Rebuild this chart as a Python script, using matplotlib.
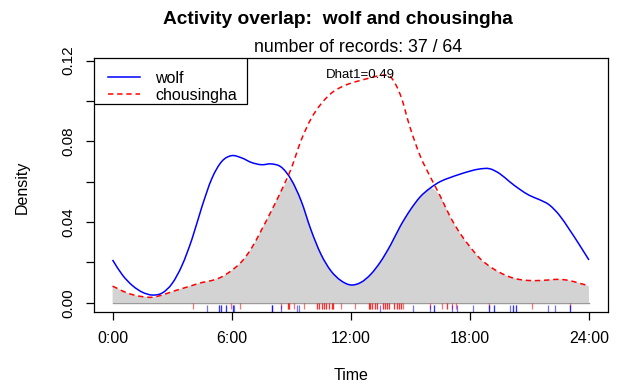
import numpy as np
import matplotlib
matplotlib.use("Agg")
import matplotlib.pyplot as plt
from matplotlib.path import Path
from matplotlib.patches import PathPatch, Rectangle

# Kernel density of activity times (time of day in hours)
hours = np.arange(0, 24.01, 0.5)
wolf_density = [
    0.0212, 0.0137, 0.0085, 0.0052, 0.0038, 0.0048, 0.0095, 0.0185, 0.0315, 0.0475,
    0.0615, 0.0700, 0.0729, 0.0718, 0.0695, 0.0684, 0.0688, 0.0672, 0.0610, 0.0505,
    0.0360, 0.0240, 0.0158, 0.0110, 0.0088, 0.0100, 0.0140, 0.0203, 0.0285, 0.0380,
    0.0460, 0.0525, 0.0568, 0.0600, 0.0620, 0.0637, 0.0652, 0.0663, 0.0664, 0.0640,
    0.0600, 0.0563, 0.0532, 0.0511, 0.0485, 0.0435, 0.0365, 0.0290, 0.0212,
]
chousingha_density = [
    0.0082, 0.0058, 0.0040, 0.0030, 0.0027, 0.0038, 0.0055, 0.0070, 0.0085, 0.0100,
    0.0110, 0.0128, 0.0160, 0.0203, 0.0270, 0.0360, 0.0455, 0.0555, 0.0665, 0.0805,
    0.0912, 0.0985, 0.1037, 0.1068, 0.1088, 0.1102, 0.1115, 0.1126, 0.1120, 0.1030,
    0.0865, 0.0727, 0.0625, 0.0530, 0.0428, 0.0345, 0.0278, 0.0220, 0.0180, 0.0150,
    0.0128, 0.0115, 0.0110, 0.0110, 0.0113, 0.0116, 0.0110, 0.0097, 0.0082,
]

# Individual records (hours) shown as rugs
wolf_times = [
    4.76, 5.34, 5.34, 5.44, 5.44, 5.73, 5.73, 6.07, 6.07, 6.12, 8.02, 8.02, 8.02,
    8.50, 9.30, 9.38, 13.46, 15.16, 16.01, 16.18, 16.18, 17.12, 17.37, 18.17,
    18.94, 18.94, 19.21, 19.21, 20.01, 20.18, 20.18, 20.30, 20.30, 21.93, 22.27,
    23.07, 23.07,
]
chousingha_times = [
    4.03, 5.98, 6.44, 8.50, 8.84, 8.84, 8.87, 8.87, 9.16, 9.64, 10.28, 10.28,
    10.40, 10.40, 10.54, 10.54, 10.66, 10.66, 10.74, 10.74, 10.91, 10.91, 11.05,
    11.05, 11.12, 11.12, 11.51, 12.19, 12.92, 12.92, 12.99, 12.99, 13.09, 13.09,
    13.21, 13.21, 13.33, 13.33, 13.63, 13.63, 13.72, 13.72, 13.84, 13.84, 13.94,
    13.94, 14.19, 14.19, 14.31, 14.31, 14.45, 14.45, 14.52, 14.52, 14.65, 16.01,
    16.61, 16.86, 16.86, 17.12, 17.29, 18.94, 21.15, 23.07,
]

tick_hours = [0, 6, 12, 18, 24]
tick_labels = ["0:00", "6:00", "12:00", "18:00", "24:00"]
y_ticks = [0.00, 0.02, 0.04, 0.06, 0.08, 0.10, 0.12]
y_labels = ["0.00", "", "0.04", "", "0.08", "", "0.12"]
dhat1 = 0.49


def smooth_curve(x, y):
    """Cubic Bezier path through (x, y); the day is circular, so the
    neighbours of the end points wrap around midnight."""
    x = np.asarray(x, float)
    y = np.asarray(y, float)
    px = np.concatenate([[x[-2] - 24], x, [x[1] + 24]])
    py = np.concatenate([[y[-2]], y, [y[1]]])
    verts = [(x[0], y[0])]
    codes = [Path.MOVETO]
    for i in range(1, len(px) - 2):
        c1 = (px[i] + (px[i + 1] - px[i - 1]) / 6, py[i] + (py[i + 1] - py[i - 1]) / 6)
        c2 = (px[i + 1] - (px[i + 2] - px[i]) / 6, py[i + 1] - (py[i + 2] - py[i]) / 6)
        verts += [c1, c2, (px[i + 1], py[i + 1])]
        codes += [Path.CURVE4] * 3
    return verts, codes


plt.rcParams["font.family"] = ["Liberation Sans", "DejaVu Sans"]

W, H = 628, 388
fig = plt.figure(figsize=(W / 100, H / 100), dpi=100)
left, right, top, bottom = 93.5, 608, 58, 311.7
ax = fig.add_axes([left / W, (H - bottom) / H, (right - left) / W, (bottom - top) / H])

wolf = np.array(wolf_density)
chou = np.array(chousingha_density)
overlap = np.minimum(wolf, chou)

# shaded overlap area
v, c = smooth_curve(hours, overlap)
v += [(hours[-1], 0.0), (hours[0], 0.0), v[0]]
c += [Path.LINETO, Path.LINETO, Path.CLOSEPOLY]
ax.add_patch(PathPatch(Path(v, c), facecolor="#d3d3d3", edgecolor="none", zorder=1))
ax.plot([hours[0], hours[-1]], [0, 0], color="#9a9a9a", lw=1.0, zorder=2)

# density curves
v, c = smooth_curve(hours, wolf)
ax.add_patch(PathPatch(Path(v, c), facecolor="none", edgecolor="blue", lw=1.1, zorder=3))
v, c = smooth_curve(hours, chou)
ax.add_patch(PathPatch(Path(v, c), facecolor="none", edgecolor="red", lw=1.1,
                       ls=(0, (3.5, 2.5)), zorder=3))

# rugs of observations below the baseline
ax.vlines(chousingha_times, -0.0031, 0.0, colors="red", lw=0.9, alpha=0.55, zorder=2)
ax.vlines(wolf_times, -0.0046, -0.0011, colors="blue", lw=0.9, alpha=0.55, zorder=2)

ax.text(12.5, 0.1129, f"Dhat1={dhat1:.2f}", ha="center", va="center", fontsize=9.5,
        zorder=4)

ax.set_xlim(-0.96, 24.96)
ax.set_ylim(-0.00446, 0.1213)
ax.set_xticks(tick_hours, tick_labels)
ax.set_yticks(y_ticks, y_labels)
ax.tick_params(axis="x", length=5.8, width=0.9, pad=8, labelsize=11.5)
ax.tick_params(axis="y", length=5.8, width=0.9, pad=7, labelsize=11, labelrotation=90)
for lab in ax.get_yticklabels():
    lab.set_va("center")
for sp in ax.spines.values():
    sp.set_linewidth(0.9)

# legend box in the top-left corner
ax.add_patch(Rectangle((0, (bottom - 104.3) / (bottom - top)), (247 - left) / (right - left),
                       1 - (bottom - 104.3) / (bottom - top), transform=ax.transAxes,
                       facecolor="white", edgecolor="black", lw=0.9, zorder=5))
handles = [
    plt.Line2D([], [], color="blue", lw=1.1),
    plt.Line2D([], [], color="red", lw=1.1, ls=(0, (3.5, 2.5))),
]
leg = ax.legend(handles, ["wolf", "chousingha"], loc="upper left",
                bbox_to_anchor=((108 - left) / (right - left), (bottom - 70.9) / (bottom - top)),
                borderaxespad=0, borderpad=0, frameon=False, fontsize=11.5,
                handlelength=2.0, handletextpad=0.94, labelspacing=0.12)
leg.set_zorder(6)

fig.text(337.5 / W, 1 - 20 / H, "Activity overlap:  wolf and chousingha", ha="center",
         va="center", fontsize=13.8, fontweight="bold")
fig.text(358 / W, 1 - 47 / H, f"number of records: {len(wolf_times)} / {len(chousingha_times)}",
         ha="center", va="center", fontsize=12.8)
cx = (left + right) / 2 / W
fig.text(cx, 1 - 376 / H, "Time", ha="center", va="center", fontsize=11.5)
fig.text(22 / W, 1 - 187 / H, "Density", ha="center", va="center", rotation=90,
         fontsize=11.5)

fig.savefig("out.png", dpi=100)
